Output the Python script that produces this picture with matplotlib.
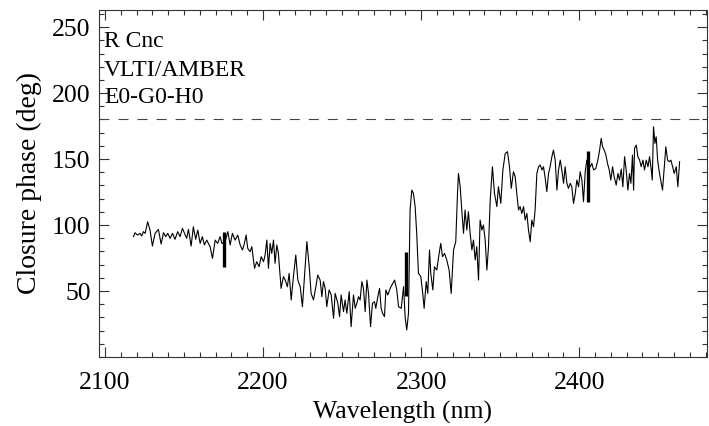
import matplotlib
matplotlib.use("Agg")
import matplotlib.pyplot as plt
from matplotlib.ticker import MultipleLocator

# wavelength (nm) and closure phase (deg)
wavelength = [
	2118.0, 2119.0, 2120.5, 2122.2, 2123.2, 2124.3, 2125.4, 2127.0, 2128.5, 2130.0,
	2131.7, 2133.8, 2135.5, 2137.0, 2138.4, 2139.7, 2141.2, 2142.7, 2144.3, 2146.0,
	2147.5, 2149.0, 2150.3, 2151.7, 2152.8, 2154.5, 2155.9, 2157.4, 2158.7, 2160.2,
	2161.6, 2162.9, 2164.4, 2165.4, 2166.5, 2168.0, 2169.7, 2171.3, 2172.8, 2173.9,
	2176.0, 2177.7, 2179.2, 2180.6, 2182.3, 2184.0, 2185.5, 2187.0, 2188.2, 2189.3,
	2190.3, 2191.8, 2192.9, 2194.6, 2196.0, 2197.5, 2198.8, 2200.3, 2201.3, 2202.4,
	2203.4, 2204.5, 2205.5, 2206.6, 2207.6, 2208.7, 2209.7, 2211.4, 2212.9, 2214.0,
	2215.4, 2216.5, 2217.8, 2219.2, 2220.7, 2222.0, 2223.5, 2224.9, 2226.2, 2227.7,
	2229.2, 2230.4, 2231.9, 2233.4, 2234.6, 2236.1, 2237.2, 2238.2, 2239.3, 2240.3,
	2241.8, 2243.1, 2244.6, 2245.6, 2247.3, 2248.4, 2249.4, 2250.9, 2251.9, 2253.0,
	2254.5, 2255.7, 2257.2, 2258.3, 2259.3, 2260.4, 2261.4, 2262.5, 2263.5, 2264.6,
	2265.7, 2266.7, 2268.0, 2269.2, 2270.5, 2271.3, 2272.6, 2273.7, 2274.7, 2275.6,
	2276.8, 2277.7, 2278.9, 2280.4, 2281.5, 2283.2, 2284.6, 2285.7, 2287.4, 2288.9,
	2289.9, 2290.9, 2292.0, 2293.0,
	2294.1, 2295.1, 2296.2, 2297.2, 2298.3, 2299.8, 2301.0, 2301.9, 2303.2, 2304.2,
	2305.3, 2306.1, 2307.4, 2308.4, 2309.9, 2311.4, 2312.4, 2313.5, 2314.8, 2316.2,
	2317.7, 2319.0, 2320.5, 2321.9, 2323.0, 2323.6, 2324.7, 2325.7, 2326.8, 2327.8,
	2328.9, 2329.9, 2331.0, 2332.1, 2333.1, 2334.2, 2335.2, 2336.3, 2337.3, 2338.4,
	2339.4, 2340.5, 2341.6, 2342.6, 2343.7, 2345.1, 2346.4, 2347.9, 2348.9, 2350.4,
	2351.7, 2353.2, 2354.6, 2355.9, 2357.0, 2358.4, 2359.5, 2360.5, 2361.6, 2362.6,
	2363.7, 2364.8, 2365.8, 2366.9, 2367.9, 2369.0, 2370.0, 2371.1, 2372.1, 2373.2,
	2374.3, 2375.3, 2376.4, 2377.4, 2378.5, 2379.5, 2380.6, 2381.6, 2382.7, 2383.7,
	2384.8, 2385.9, 2386.9, 2388.0, 2389.0, 2390.1, 2391.1, 2392.2, 2393.2, 2394.3,
	2395.3, 2396.4, 2397.5, 2398.5, 2399.6, 2400.6, 2401.7, 2402.7, 2403.8, 2404.8,
	2407.0, 2408.0, 2409.1, 2410.5, 2411.8, 2412.9, 2413.9, 2414.8, 2415.8, 2416.9,
	2417.9, 2419.0, 2420.0, 2421.1, 2422.1, 2423.4, 2424.5, 2425.5, 2426.6, 2427.6,
	2428.7, 2429.7, 2430.8, 2431.8, 2432.7, 2433.7, 2434.4, 2435.0, 2436.1, 2437.1,
	2438.2, 2439.2, 2440.3, 2441.3, 2442.4, 2443.5, 2444.5, 2445.6, 2446.2, 2447.0,
	2447.9, 2448.7, 2449.6, 2450.8, 2451.9, 2452.7, 2453.8, 2454.8, 2455.9, 2457.0,
	2458.0, 2459.1, 2460.1, 2461.4, 2462.4, 2463.5,
]
closure_phase = [
	91.2, 94.2, 92.4, 93.7, 91.7, 95.0, 93.7, 102.5, 96.2, 84.1,
	93.7, 96.7, 85.6, 94.2, 91.2, 93.7, 89.9, 93.7, 89.2, 95.0,
	91.2, 97.5, 93.7, 89.9, 96.7, 84.1, 98.7, 89.2, 96.2, 86.1,
	91.2, 84.9, 88.6, 86.1, 83.6, 74.8, 88.6, 86.1, 91.2, 86.1,
	87.4, 95.0, 84.9, 93.7, 88.6, 92.4, 84.9, 81.1, 86.1, 92.4,
	82.3, 79.8, 83.6, 67.2, 72.2, 68.4, 76.0, 72.2, 77.3, 88.6,
	67.2, 86.1, 78.5, 88.6, 71.0, 84.9, 78.5, 52.0, 60.9, 58.3,
	53.3, 63.4, 43.2, 60.9, 77.3, 58.3, 53.3, 38.1, 60.9, 87.4,
	68.4, 48.2, 43.2, 53.3, 62.1, 58.3, 45.7, 57.1, 52.0, 38.1,
	50.8, 47.0, 29.3, 48.2, 40.7, 30.6, 47.0, 34.4, 43.2, 33.1,
	49.5, 23.0, 47.0, 36.9, 40.7, 45.7, 43.2, 57.1, 52.0, 34.4,
	58.3, 48.2, 23.0, 40.7, 41.9, 36.9, 45.7, 52.0, 36.9, 33.1,
	30.6, 50.8, 47.0, 52.0, 54.6, 58.3, 50.8, 38.1, 36.9, 53.3,
	30.0, 20.5, 33.1, 111.4,
	126.5, 124.0, 114.0, 93.7, 63.4, 60.9, 48.2, 36.9, 57.1, 48.2,
	81.1, 63.4, 50.8, 68.4, 65.9, 78.5, 86.1, 76.0, 78.5, 73.5,
	65.9, 48.2, 81.1, 87.4, 124.0, 139.1, 129.0, 111.4, 93.7, 111.4,
	96.2, 110.1, 93.7, 81.1, 88.6, 73.5, 83.6, 58.3, 103.8, 96.2,
	100.0, 88.6, 65.9, 83.6, 118.9, 144.2, 124.0, 114.0, 129.0, 116.4,
	141.7, 154.3, 155.6, 144.2, 127.8, 140.4, 136.6, 124.0, 111.4, 114.0,
	108.8, 114.0, 103.8, 108.8, 96.2, 87.4, 103.8, 98.7, 111.4, 139.1,
	144.2, 145.5, 141.7, 144.2, 135.4, 125.3, 139.1, 144.2, 151.8, 156.8,
	149.2, 126.5, 141.7, 149.2, 141.7, 131.6, 144.2, 131.6, 127.8, 131.6,
	129.0, 116.4, 124.0, 134.1, 129.0, 140.4, 134.1, 117.7, 140.4, 149.2,
	144.2, 146.7, 141.7, 142.9, 149.2, 156.8, 165.7, 159.3, 156.8, 153.0,
	146.7, 141.7, 134.1, 144.2, 136.6, 130.3, 139.1, 134.1, 142.4, 129.0,
	151.8, 141.7, 126.5, 139.1, 131.6, 153.0, 126.5, 158.1, 160.6, 151.8,
	149.2, 144.2, 149.2, 141.7, 149.2, 144.2, 151.8, 141.7, 134.1, 174.5,
	161.9, 166.9, 149.2, 139.1, 131.6, 126.5, 144.2, 159.3, 149.2, 148.0,
	149.2, 144.2, 139.1, 144.2, 129.0, 148.0,
]

# thick vertical error bars (wavelength, low, high)
bar_wavelength = [2175.0, 2290.5, 2405.8]
bar_low = [68.0, 46.0, 117.7]
bar_high = [95.0, 79.8, 156.3]

reference_phase = 180.0
labels = ["R Cnc", "VLTI/AMBER", "E0-G0-H0"]
label_y = [234.8, 212.9, 192.4]


def main():
	plt.rcParams["font.family"] = ["Liberation Serif", "DejaVu Serif"]
	plt.rcParams["lines.scale_dashes"] = False

	fig = plt.figure(figsize=(7.09, 4.26), dpi=100)
	ax = fig.add_axes([0.1396, 0.162, 0.8575, 0.8146])

	ax.plot(wavelength, closure_phase, color="black", linewidth=0.8)
	ax.vlines(bar_wavelength, bar_low, bar_high, color="black", linewidth=2.4)
	ax.axhline(reference_phase, color="#444444", linewidth=0.8, dashes=(7.2, 6.5))

	for text, y in zip(labels, label_y):
		ax.text(2099.4, y, text, fontsize=17, va="baseline", ha="left")

	ax.set_xlim(2096.2, 2480.8)
	ax.set_ylim(0, 263)
	ax.xaxis.set_major_locator(MultipleLocator(100))
	ax.xaxis.set_minor_locator(MultipleLocator(10))
	ax.yaxis.set_minor_locator(MultipleLocator(10))
	ax.set_yticks([50, 100, 150, 200, 250])

	ax.tick_params(which="both", direction="in", top=True, right=True, color="#333333", width=0.8)
	ax.tick_params(which="major", length=7)
	ax.tick_params(which="minor", length=3.5)
	ax.tick_params(axis="x", which="major", labelsize=18.5, pad=11)
	ax.tick_params(axis="y", which="major", labelsize=18.5, pad=6)
	for spine in ax.spines.values():
		spine.set_linewidth(0.8)
		spine.set_color("#333333")

	ax.set_xlabel("Wavelength (nm)", fontsize=18.5, labelpad=5)
	ax.set_ylabel("Closure phase (deg)", fontsize=20, labelpad=7)

	fig.savefig("out.png", dpi=100)


if __name__ == "__main__":
	main()
